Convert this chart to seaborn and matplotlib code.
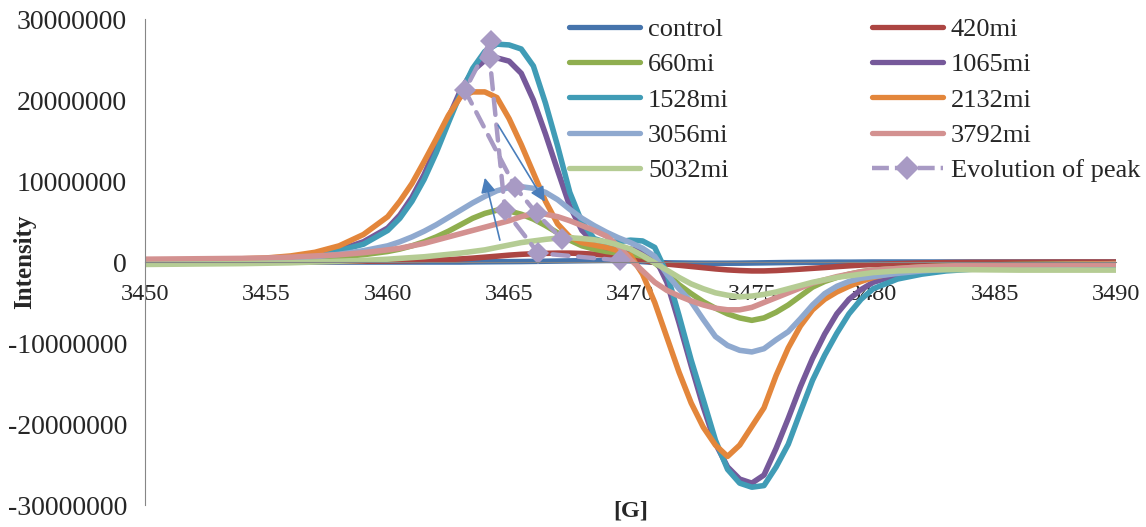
import numpy as np
import pandas as pd
import matplotlib
matplotlib.use('Agg')
import matplotlib.pyplot as plt
import matplotlib.ticker as ticker
from matplotlib.lines import Line2D
import seaborn as sns

# magnetic field [G]; intensities below are in millions
field = [3450, 3452, 3454, 3455, 3456, 3457, 3458, 3459,
         3460, 3460.5, 3461, 3461.5, 3462, 3462.5, 3463, 3463.5, 3464, 3464.5,
         3465, 3465.5, 3466, 3466.5, 3467, 3467.5, 3468, 3468.5, 3469, 3469.5,
         3470, 3470.5, 3471, 3471.5, 3472, 3472.5, 3473, 3473.5, 3474, 3474.5,
         3475, 3475.5, 3476, 3476.5, 3477, 3477.5, 3478, 3478.5, 3479, 3479.5,
         3480,
         3481, 3482, 3483, 3484, 3486, 3488, 3490]

control = [0, 0, 0, 0, 0, 0, 0, 0,
           0, 0, 0, 0, 0, 0, 0, 0.02, 0.03, 0.04,
           0.05, 0.06, 0.08, 0.1, 0.12, 0.14, 0.16, 0.18, 0.2, 0.2,
           0.15, 0.05, -0.05, -0.1, -0.12, -0.14, -0.15, -0.15, -0.15, -0.14,
           -0.12, -0.1, -0.08, -0.06, -0.05, -0.04, -0.03, -0.02, -0.02, -0.01,
           0,
           0, 0, 0, 0, 0, 0, 0]
mi420 = [0.05, 0.05, 0.05, 0.05, 0.06, 0.07, 0.08, 0.1,
         0.12, 0.14, 0.17, 0.2, 0.25, 0.3, 0.38, 0.48, 0.6, 0.72,
         0.85, 0.95, 1.02, 1.07, 1.1, 1.1, 1.05, 0.97, 0.85, 0.68,
         0.45, 0.2, -0.05, -0.25, -0.4, -0.55, -0.7, -0.85, -0.97, -1.05,
         -1.1, -1.1, -1.05, -0.97, -0.88, -0.78, -0.68, -0.57, -0.47, -0.38,
         -0.3,
         -0.2, -0.12, -0.07, -0.04, -0.02, 0, 0]
mi660 = [0.0, 0.05, 0.15, 0.2, 0.3, 0.45, 0.65, 0.9,
         1.3, 1.6, 2.0, 2.5, 3.1, 3.8, 4.6, 5.4, 6.0, 6.4,
         6.3, 5.9, 5.3, 4.5, 3.6, 2.7, 2.0, 1.6, 1.3, 1.1,
         1.0, 0.7, -0.1, -1.4, -2.8, -3.9, -4.9, -5.7, -6.4, -6.9,
         -7.2, -6.9, -6.2, -5.3, -4.2, -3.1, -2.4, -1.9, -1.5, -1.2,
         -1.0,
         -0.8, -0.6, -0.5, -0.4, -0.3, -0.25, -0.2]
mi1065 = [0.1, 0.15, 0.25, 0.35, 0.55, 0.9, 1.5, 2.5,
          4.2, 5.8, 8.0, 10.8, 14.2, 17.8, 21.2, 23.6, 24.9, 25.2,
          24.8, 23.3, 20.0, 15.8, 11.3, 6.9, 3.9, 2.4, 1.8, 1.6,
          1.6, 1.4, 0.6, -2.5, -7.5, -12.8, -17.9, -22.4, -25.3, -26.8,
          -27.3, -26.3, -23.0, -19.3, -15.4, -11.9, -8.9, -6.4, -4.6, -3.4,
          -2.5,
          -1.6, -1.2, -0.9, -0.7, -0.5, -0.4, -0.3]
mi1528 = [0.1, 0.15, 0.25, 0.35, 0.55, 0.85, 1.4, 2.2,
          3.9, 5.4, 7.5, 10.2, 13.5, 17.2, 20.8, 23.9, 26.0, 26.9,
          26.8, 26.3, 24.2, 19.6, 14.3, 8.6, 4.9, 2.9, 2.4, 2.5,
          2.7, 2.6, 1.8, -1.4, -6.6, -12.1, -17.0, -22.0, -25.6, -27.3,
          -27.8, -27.6, -25.3, -22.5, -18.5, -14.6, -11.5, -8.8, -6.4, -4.6,
          -3.3,
          -2.1, -1.5, -1.1, -0.9, -0.7, -0.6, -0.5]
mi2132 = [0.15, 0.25, 0.4, 0.5, 0.75, 1.2, 2.0, 3.4,
          5.6, 7.5, 9.7, 12.4, 15.2, 18.1, 20.4, 21.0, 21.0, 20.3,
          17.7, 14.5, 11.0, 7.5, 4.7, 3.1, 2.4, 2.1, 1.8, 1.4,
          0.8, -1.5, -5.0, -9.3, -13.6, -17.4, -20.4, -22.6, -24.0, -22.6,
          -20.3, -18.0, -14.0, -10.6, -7.9, -5.9, -4.6, -3.7, -3.0, -2.4,
          -1.9,
          -1.2, -0.8, -0.6, -0.5, -0.4, -0.3, -0.2]
mi3056 = [0.1, 0.15, 0.25, 0.3, 0.45, 0.65, 0.95, 1.4,
          2.0, 2.5, 3.1, 3.8, 4.6, 5.5, 6.4, 7.3, 8.1, 8.8,
          9.2, 9.3, 9.1, 8.6, 7.7, 6.5, 5.4, 4.5, 3.7, 3.0,
          2.4, 1.7, 0.7, -1.5, -3.3, -4.9, -7.1, -9.2, -10.3, -10.9,
          -11.1, -10.7, -9.6, -8.6, -7.0, -5.3, -3.9, -3.0, -2.4, -2.0,
          -1.8,
          -1.4, -1.1, -0.9, -0.7, -0.5, -0.4, -0.3]
mi3792 = [0.35, 0.4, 0.45, 0.5, 0.6, 0.75, 0.9, 1.15,
          1.5, 1.7, 2.0, 2.3, 2.7, 3.1, 3.5, 3.9, 4.3, 4.7,
          5.1, 5.6, 6.0, 5.9, 5.6, 5.1, 4.5, 3.9, 3.2, 2.0,
          0.3, -1.1, -2.5, -3.5, -4.2, -4.8, -5.3, -5.7, -5.9, -5.9,
          -5.6, -5.0, -4.4, -3.8, -3.2, -2.6, -2.2, -1.8, -1.5, -1.2,
          -1.0,
          -0.8, -0.6, -0.5, -0.4, -0.35, -0.3, -0.3]
mi5032 = [-0.3, -0.25, -0.2, -0.15, -0.1, 0.0, 0.1, 0.2,
          0.35, 0.45, 0.55, 0.65, 0.8, 0.95, 1.1, 1.3, 1.5, 1.8,
          2.1, 2.4, 2.6, 2.8, 2.95, 3.0, 2.9, 2.75, 2.5, 2.1,
          1.6, 0.8, -0.1, -1.0, -1.9, -2.7, -3.3, -3.8, -4.1, -4.3,
          -4.2, -4.0, -3.7, -3.3, -2.9, -2.5, -2.2, -1.9, -1.7, -1.5,
          -1.3,
          -1.1, -1.0, -0.95, -0.95, -1.0, -1.0, -1.0]

samples = ['control', '420mi', '660mi', '1065mi', '1528mi',
           '2132mi', '3056mi', '3792mi', '5032mi']
spectra = [control, mi420, mi660, mi1065, mi1528, mi2132, mi3056, mi3792, mi5032]
colors = ['#4674AC', '#AC4542', '#8FAE4F', '#76599A', '#409CB6',
          '#E3863B', '#8FA9CF', '#D39190', '#B5CC94']

# peak maxima in time order (field, intensity in millions)
peak_field = [3469.56, 3466.2, 3464.83, 3464.2, 3464.24, 3463.18, 3465.24, 3466.13, 3467.16]
peak_int = [0.2, 1.1, 6.4, 25.2, 27.3, 21.2, 9.3, 6.0, 2.9]

# arrows: (start field, start M, end field, end M)
arrows = [(3464.62, 2.7, 3464.0, 10.4),
          (3464.55, 16.9, 3466.47, 7.45)]

frames = []
for name, vals in zip(samples, spectra):
    frames.append(pd.DataFrame({'field': field,
                                'intensity': np.array(vals) * 1e6,
                                'sample': name}))
df = pd.concat(frames, ignore_index=True)

sns.set_style('white')
plt.rcParams['font.family'] = ['Liberation Serif', 'DejaVu Serif']

fig = plt.figure(figsize=(11.46, 5.27), dpi=100)
ax = fig.add_axes([0.1265, 0.0417, 0.8473, 0.9222])

sns.lineplot(data=df, x='field', y='intensity', hue='sample', hue_order=samples,
             palette=colors, estimator=None, lw=4, legend=False, ax=ax,
             solid_capstyle='round', solid_joinstyle='round')
evo_color = '#A89AC4'
sns.lineplot(x=peak_field, y=np.array(peak_int) * 1e6, sort=False, estimator=None,
             color=evo_color, lw=3.2, marker='D', markersize=11,
             markeredgewidth=0, ax=ax)
evo_line = ax.lines[-1]
evo_line.set_dashes([3.6, 2.2])
evo_line.set_dash_capstyle('round')

for x0, y0, x1, y1 in arrows:
    ax.annotate('', xy=(x1, y1 * 1e6), xytext=(x0, y0 * 1e6),
                arrowprops=dict(arrowstyle='-|>', color='#4A7EBB', lw=1.2,
                                mutation_scale=22, shrinkA=0, shrinkB=0))

ax.set_xlim(3450, 3490)
ax.set_ylim(-30e6, 30e6)
ax.set_xticks([3450, 3455, 3460, 3465, 3470, 3475, 3480, 3485, 3490])
ax.set_yticks([-30e6, -20e6, -10e6, 0, 10e6, 20e6, 30e6])
ax.yaxis.set_major_formatter(ticker.FuncFormatter(lambda v, _: f'{v:.0f}'))

ax.spines['top'].set_visible(False)
ax.spines['right'].set_visible(False)
ax.spines['bottom'].set_position(('data', 0))
for s in ['left', 'bottom']:
    ax.spines[s].set_color('#868686')
    ax.spines[s].set_linewidth(0.8)
ax.tick_params(axis='x', direction='out', length=5, width=0.8, color='#868686',
               pad=10.5, labelsize=17.5)
ax.tick_params(axis='y', direction='out', length=5, width=0.8, color='#868686',
               pad=8, labelsize=20)

ax.set_xlabel('[G]', fontsize=17.5, fontweight='bold')
ax.set_ylabel('Intensity', fontsize=18, fontweight='bold')
ax.xaxis.set_label_coords(0.5, -0.012)
ax.yaxis.set_label_coords(-0.1236, 0.5)
ax.xaxis.label.set_va('center')
ax.yaxis.label.set_va('center')

handles = {}
for name, c in zip(samples, colors):
    handles[name] = Line2D([], [], color=c, lw=3.8, solid_capstyle='round')
handles['Evolution of peak'] = Line2D([], [], color=evo_color, lw=3.2,
                                      dashes=[3.8, 1.35], marker='D',
                                      markersize=12, markeredgewidth=0)
order = ['control', '660mi', '1528mi', '3056mi', '5032mi',
         '420mi', '1065mi', '2132mi', '3792mi', 'Evolution of peak']
ax.legend([handles[k] for k in order], order, ncol=2, frameon=False,
          loc='upper left', bbox_to_anchor=(569 / 1146, 1 - 17.5 / 527),
          bbox_transform=fig.transFigure, borderpad=0, borderaxespad=0,
          fontsize=19, handlelength=2.7, handletextpad=0.3,
          columnspacing=5.4, labelspacing=0.45)

fig.savefig('out.png', dpi=100)
